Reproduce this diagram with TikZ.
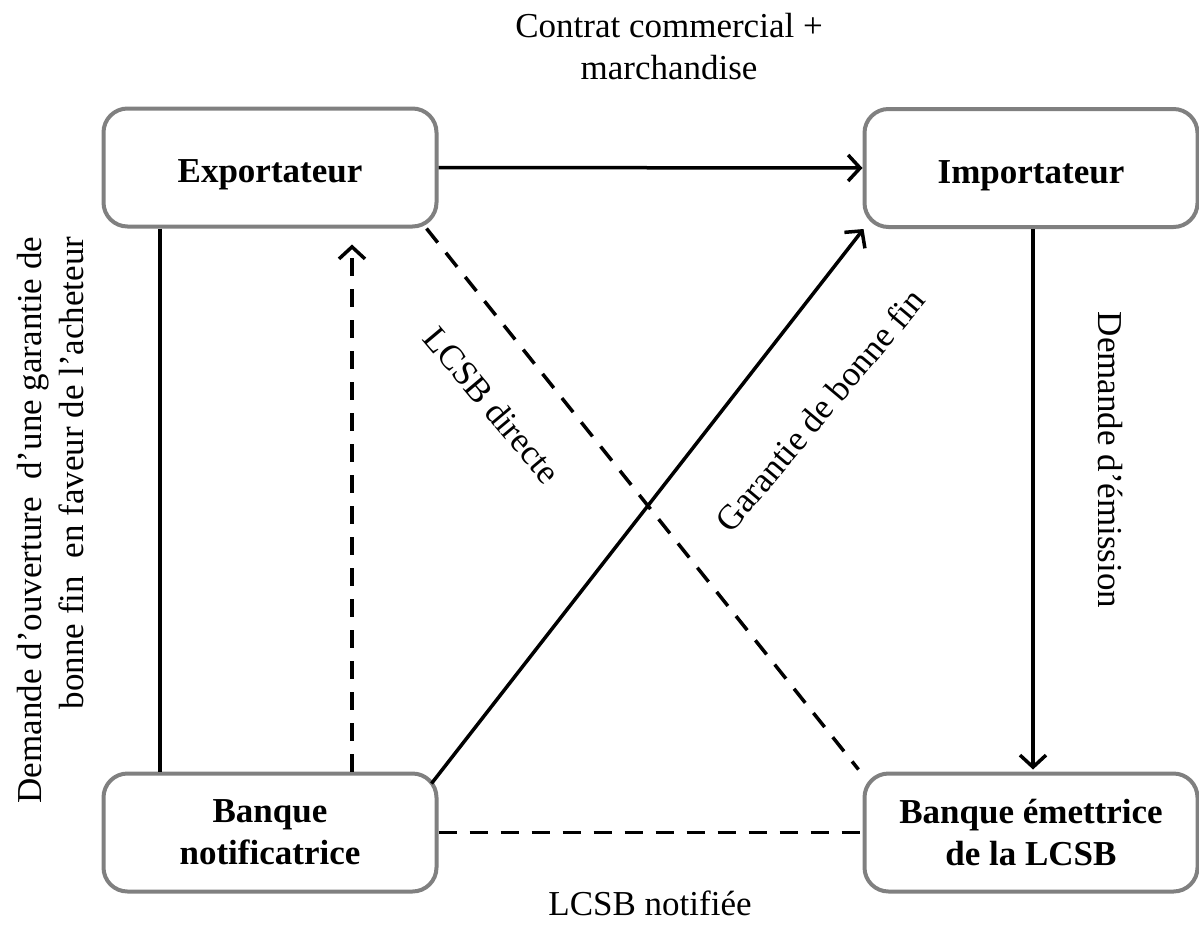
\documentclass[tikz,border=0pt]{standalone}
\usepackage{fontspec}
\setmainfont{Liberation Serif}
\usetikzlibrary{arrows.meta}
\begin{document}
\begin{tikzpicture}[x=1pt,y=-1pt,
  party/.style={draw=gray, line width=4pt, rounded corners=24pt,
    minimum width=333pt, minimum height=118pt, align=center,
    font=\fontsize{35}{42}\selectfont\bfseries, inner sep=0pt},
  oneline/.style={text height=38pt, text depth=8pt},
  lbl/.style={font=\fontsize{35}{42}\selectfont, inner sep=0pt},
  flow/.style={line width=3.5pt, black},
  tipped/.style={-{Straight Barb[length=12pt,width=26pt,line width=3.5pt]}},
  dashedflow/.style={flow, dash pattern=on 18pt off 13pt}]
\useasboundingbox (0,0) rectangle (1199,924);

% the four parties
\node[party, oneline] (exp) at (270,167.5) {Exportateur};
\node[party, oneline] (imp) at (1031,168) {Importateur};
\node[party] (bn)  at (270,832.5) {Banque\\notificatrice};
\node[party] (be)  at (1031,832.5) {Banque émettrice\\de la LCSB};

% connectors
\draw[flow, tipped] (exp.east) -- (imp.west);
\draw[flow] ([xshift=-110pt]exp.south) -- ([xshift=-110pt]bn.north);
\draw[dashedflow, tipped] ([xshift=82pt]bn.north) -- ([xshift=82pt,yshift=-16pt]exp.south);
\draw[dashedflow] ([xshift=-12pt]exp.south east) -- ([xshift=-4pt,yshift=2pt]be.north west);
\draw[flow, tipped] ([xshift=-7pt,yshift=-12pt]bn.north east) -- ([xshift=1pt]imp.south west);
\draw[flow, tipped] ([xshift=2pt]imp.south) -- ([xshift=2pt,yshift=2pt]be.north);
\draw[dashedflow] (bn.east) -- (be.west);

% labels
\node[lbl, align=center] (lcontrat) at (669,47) {Contrat commercial +\\marchandise};
\node[lbl] (lnotif) at (650,903) {LCSB notifiée};
\node[lbl, align=right, rotate=90] (ldemande) at (51,520)
  {Demande d’ouverture~ d’une garantie de\\bonne fin~ en faveur de l’acheteur};
\node[lbl, rotate=-50] (ldirecte) at (492,405) {LCSB directe};
\node[lbl, rotate=50] (lgarantie) at (820,410) {Garantie de bonne fin};
\node[lbl, rotate=-90] (lemission) at (1110,460) {Demande d’émission};
\end{tikzpicture}
\end{document}
